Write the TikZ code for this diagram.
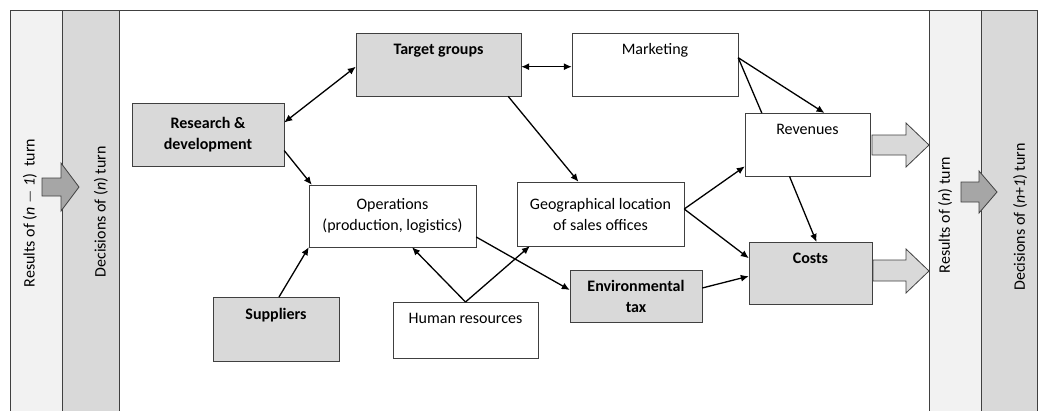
\documentclass[tikz,border=0pt]{standalone}
\usepackage{fontspec}
\setmainfont{Carlito}
\usetikzlibrary{arrows.meta}
\definecolor{boxgray}{HTML}{D9D9D9}
\definecolor{stripgray}{HTML}{F2F2F2}
\definecolor{arrowgray}{HTML}{A6A6A6}
\definecolor{linegray}{HTML}{404040}
\tikzset{
  box/.style={draw=linegray, inner sep=0pt, align=center, font=\fontsize{16}{21}\selectfont},
  greybox/.style={box, fill=boxgray, font=\fontsize{16}{21}\selectfont\bfseries},
  topbox/.style={anchor=north, text height=21pt, text depth=#1},
  link/.style={-{Latex[length=8pt,width=7pt]}, line width=1.3pt},
  twoway/.style={{Latex[length=8pt,width=7pt]}-{Latex[length=8pt,width=7pt]}, line width=1.3pt},
  turnlabel/.style={rotate=90, font=\fontsize{16}{21}\selectfont},
  bigarrow/.style={draw=linegray, line width=0.8pt}
}
\begin{document}
\begin{tikzpicture}[x=1pt,y=-1pt]
\useasboundingbox (0,0) rectangle (1042,410);
% turn strips
\filldraw[fill=stripgray, draw=linegray] (10,10) rectangle (62,412);
\filldraw[fill=boxgray, draw=linegray] (62,10) rectangle (119,412);
\draw[linegray] (119,10) -- (929,10);
\filldraw[fill=stripgray, draw=linegray] (929,10) rectangle (981,412);
\filldraw[fill=boxgray, draw=linegray] (981,10) rectangle (1037,412);
\node[turnlabel] (prevres) at (30,213) {Results of (\textit{n} $-$ \textit{1})~~turn};
\node[turnlabel] (curdec) at (101,212) {Decisions of (\textit{n}) turn};
\node[turnlabel] (curres) at (945,215) {Results of (\textit{n}) turn};
\node[turnlabel] (nextdec) at (1020,217) {Decisions of (\textit{n}+\textit{1}) turn};
% block arrows
\filldraw[bigarrow, fill=arrowgray] (42,178) -- (61,178) -- (61,163) -- (79,187) -- (61,211) -- (61,196) -- (42,196) -- cycle;
\filldraw[bigarrow, fill=arrowgray] (961,182) -- (979,182) -- (979,171) -- (997,192) -- (979,213) -- (979,202) -- (961,202) -- cycle;
\filldraw[bigarrow, fill=boxgray] (872,135) -- (906,135) -- (906,123) -- (929,145) -- (906,167) -- (906,155) -- (872,155) -- cycle;
\filldraw[bigarrow, fill=boxgray] (873,260) -- (906,260) -- (906,249) -- (929,271) -- (906,293) -- (906,281) -- (873,281) -- cycle;
% boxes
\node[greybox, minimum width=152pt, minimum height=63pt] (rd) at (208,134.5) {Research \&\\development};
\node[greybox, topbox=42pt, minimum width=165pt] (tg) at (438.5,33) {Target groups};
\node[box, topbox=42pt, minimum width=166pt] (mk) at (655,33) {Marketing};
\node[box, topbox=42pt, minimum width=125pt] (rev) at (807.5,113) {Revenues};
\node[box, minimum width=167pt, minimum height=64pt] (geo) at (600.5,214) {Geographical location\\of sales offices};
\node[box, minimum width=167pt, minimum height=62pt] (ops) at (392.5,216) {Operations\\(production, logistics)};
\node[greybox, topbox=41pt, minimum width=123pt] (cost) at (810.5,242) {Costs};
\node[greybox, minimum width=132pt, minimum height=52pt] (env) at (636,296) {Environmental\\tax};
\node[greybox, text height=22pt, text depth=42pt, anchor=north, minimum width=126pt] (sup) at (276,297) {Suppliers};
\node[box, topbox=35pt, minimum width=145pt] (hr) at (465.5,302) {Human resources};
% connectors
\draw[twoway] ([yshift=12pt]rd.east) -- ([yshift=-2pt]tg.west);
\draw[twoway] ([yshift=-2pt]tg.east) -- ([yshift=-2pt]mk.west);
\draw[link] ([yshift=-16pt]rd.east) -- ([xshift=3pt]ops.north west);
\draw[link] ([xshift=-13pt]tg.south east) -- ([xshift=-22pt]geo.north);
\draw[link] ([yshift=7pt]mk.east) -- ([xshift=17pt]rev.north);
\draw[line width=1.3pt] ([yshift=7pt]mk.east) -- ([xshift=17pt]rev.north west);
\draw[link] ([yshift=5pt]geo.east) -- ([yshift=10pt]rev.south west);
\draw[link] ([yshift=5pt]geo.east) -- ([yshift=15pt]cost.west);
\draw[link] ([xshift=-18pt]rev.south) -- ([xshift=6pt]cost.north);
\draw[link] ([yshift=8pt]env.east) -- ([yshift=-3pt]cost.west);
\draw[link] ([yshift=-21pt]ops.east) -- ([yshift=6pt]env.west);
\draw[link] ([xshift=3pt]sup.north) -- (ops.south west);
\draw[link] (hr.north) -- ([xshift=19.5pt]ops.south);
\draw[link] (hr.north) -- ([xshift=13pt]geo.south west);
\end{tikzpicture}
\end{document}
